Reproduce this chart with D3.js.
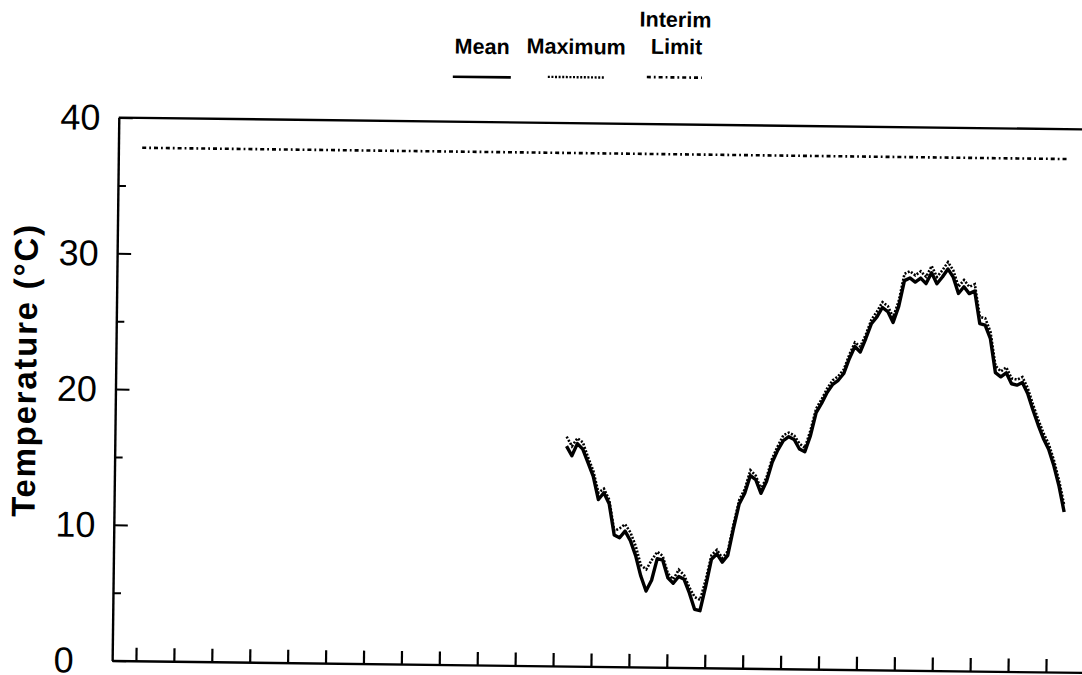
<!DOCTYPE html>
<html><head><meta charset="utf-8">
<script src="https://cdn.jsdelivr.net/npm/d3@7"></script>
<style>
body{margin:0;background:#fff}
svg{display:block;background:#fff}
text{font-family:"Liberation Sans",Arial,sans-serif;fill:#000}
</style>
</head><body>
<svg id="chart" width="1082" height="675"></svg>
<script>
// ---- data ----
const days = [79,80,81,82,83,84,85,86,87,88,89,90,91,92,93,94,95,96,97,98,99,100,
  101,102,103,104,105,106,107,108,109,110,111,112,113,114,115,116,117,118,119,120,
  121,122,123,124,125,126,127,128,129,130,131,132,133,134,135,136,137,138,139,140,
  141,142,143,144,145,146,147,148,149,150,151,152,153,154,155,156,157,158,159,160,
  161,162,163,164,165,166,167,168,169,170,171];
const meanTemp = [16.2,15.5,16.4,16.0,15.0,14.0,12.3,12.8,12.0,9.7,9.5,10.0,9.3,8.2,6.7,5.6,6.4,8.0,7.9,6.6,6.2,6.7,
  6.5,5.5,4.3,4.2,6.0,8.0,8.4,7.8,8.3,10.3,12.1,12.9,14.2,13.9,12.9,13.8,15.2,16.1,16.8,17.1,
  16.9,16.2,16.0,17.2,18.9,19.6,20.4,21.0,21.3,21.8,22.9,23.8,23.4,24.4,25.5,26.0,26.7,26.4,25.6,26.8,
  28.7,28.9,28.6,28.9,28.5,29.3,28.5,29.0,29.6,29.0,27.8,28.3,27.8,28.0,25.6,25.5,24.5,22.0,21.7,22.0,
  21.2,21.1,21.3,20.5,19.3,18.2,17.2,16.4,15.2,13.7,11.8];
const maxTemp = [16.9,16.2,16.8,16.5,15.4,14.4,12.8,13.1,12.3,10.0,10.2,10.5,9.9,8.9,7.5,7.2,7.9,8.5,8.2,6.9,6.5,7.2,
  6.8,5.9,5.2,5.0,6.5,8.3,8.7,8.1,8.6,10.6,12.4,13.2,14.6,14.2,13.2,14.1,15.5,16.4,17.2,17.4,
  17.2,16.6,16.3,17.6,19.2,19.9,20.7,21.3,21.6,22.1,23.2,24.1,23.8,24.7,25.8,26.4,27.1,26.8,26.0,27.2,
  29.2,29.4,29.1,29.4,29.0,29.8,29.0,29.5,30.1,29.5,28.3,28.8,28.3,28.5,26.1,26.0,25.0,22.5,22.1,22.4,
  21.6,21.5,21.7,20.9,19.7,18.6,17.6,16.8,15.6,14.1,12.3];
const limitDays = [0, 171];
const limitTemp = [37.8, 37.8];
const yMajorTicks = [0, 10, 20, 30, 40];
const yMinorTicks = [5, 15, 25, 35];
const xTicks = [0,7,14,21,28,35,42,49,56,63,70,77,84,91,98,105,112,119,126,133,140,147,154,161,168];
const legendNames = ["Mean", "Maximum", "Interim Limit"];
const yTitle = "Temperature (°C)";

// ---- layout ----
const L = 115.5, T = 123.5, B = 666.5;
const svg = d3.select("#chart");
const g = svg.append("g").attr("transform", "rotate(0.7,600,390)");

const x = d3.scaleLinear().domain([-4.39, 180]).range([L, L + 184.39 * 5.417]);
const y = d3.scaleLinear().domain([0, 40]).range([B, T]);

// frame top line
g.append("line").attr("x1", L).attr("x2", x.range()[1]).attr("y1", T).attr("y2", T)
  .attr("stroke", "#000").attr("stroke-width", 2.4);

// y axis
const yAxis = g.append("g").attr("transform", `translate(${L},0)`)
  .call(d3.axisLeft(y).tickValues(yMajorTicks).tickSize(-14).tickSizeOuter(0).tickPadding(0));
yAxis.select(".domain").attr("stroke-width", 2.4);
yAxis.selectAll(".tick line").attr("stroke-width", 2);
yAxis.selectAll(".tick text").attr("text-anchor", "start").attr("x", 57 - L).attr("dy", "0.33em")
  .attr("font-size", 36).attr("font-family", "Liberation Sans, Arial, sans-serif");
const yMinor = g.append("g").attr("transform", `translate(${L},0)`)
  .call(d3.axisLeft(y).tickValues(yMinorTicks).tickSize(-8).tickSizeOuter(0).tickFormat(""));
yMinor.select(".domain").remove();
yMinor.selectAll(".tick line").attr("stroke-width", 2);

// x axis
const xAxis = g.append("g").attr("transform", `translate(0,${B})`)
  .call(d3.axisBottom(x).tickValues(xTicks).tickSize(-13).tickSizeOuter(0).tickFormat(""));
xAxis.select(".domain").attr("stroke-width", 2.4);
xAxis.selectAll(".tick line").attr("stroke-width", 2.2);

// y title
g.append("text").attr("transform", `translate(36,378) rotate(-90)`)
  .attr("text-anchor", "middle").attr("font-size", 33).attr("font-weight", "bold")
  .attr("textLength", 292).attr("lengthAdjust", "spacing")
  .text(yTitle);

// lines
const line = d3.line().x(d => x(d[0])).y(d => y(d[1]));
g.append("path").datum(limitDays.map((d, i) => [d, limitTemp[i]]))
  .attr("d", line).attr("fill", "none").attr("stroke", "#000")
  .attr("stroke-width", 2.6).attr("stroke-dasharray", "4,3,1.8,3");
g.append("path").datum(days.map((d, i) => [d, maxTemp[i]]))
  .attr("d", line).attr("fill", "none").attr("stroke", "#000")
  .attr("stroke-width", 2.6).attr("stroke-dasharray", "2,1.6");
g.append("path").datum(days.map((d, i) => [d, meanTemp[i]]))
  .attr("d", line).attr("fill", "none").attr("stroke", "#000")
  .attr("stroke-width", 3.4).attr("stroke-linejoin", "round");

// legend
const lg = g.append("g").attr("font-size", 21.5).attr("font-weight", "bold");
lg.append("text").attr("x", 478).attr("y", 55.4).attr("text-anchor", "middle").text(legendNames[0]);
lg.append("text").attr("x", 572).attr("y", 54.3).attr("text-anchor", "middle").text(legendNames[1]);
const parts = legendNames[2].split(" ");
lg.append("text").attr("x", 671).attr("y", 26.1).attr("text-anchor", "middle").text(parts[0]);
lg.append("text").attr("x", 672.4).attr("y", 53.1).attr("text-anchor", "middle").text(parts[1]);
lg.append("line").attr("x1", 449).attr("x2", 507).attr("y1", 78.5).attr("y2", 78.5)
  .attr("stroke", "#000").attr("stroke-width", 2.6);
lg.append("line").attr("x1", 544).attr("x2", 601).attr("y1", 77.5).attr("y2", 77.5)
  .attr("stroke", "#000").attr("stroke-width", 2.4).attr("stroke-dasharray", "2,1.6");
lg.append("line").attr("x1", 643).attr("x2", 698).attr("y1", 76.5).attr("y2", 76.5)
  .attr("stroke", "#000").attr("stroke-width", 2.6).attr("stroke-dasharray", "4,3,1.8,3");
</script>
</body></html>
